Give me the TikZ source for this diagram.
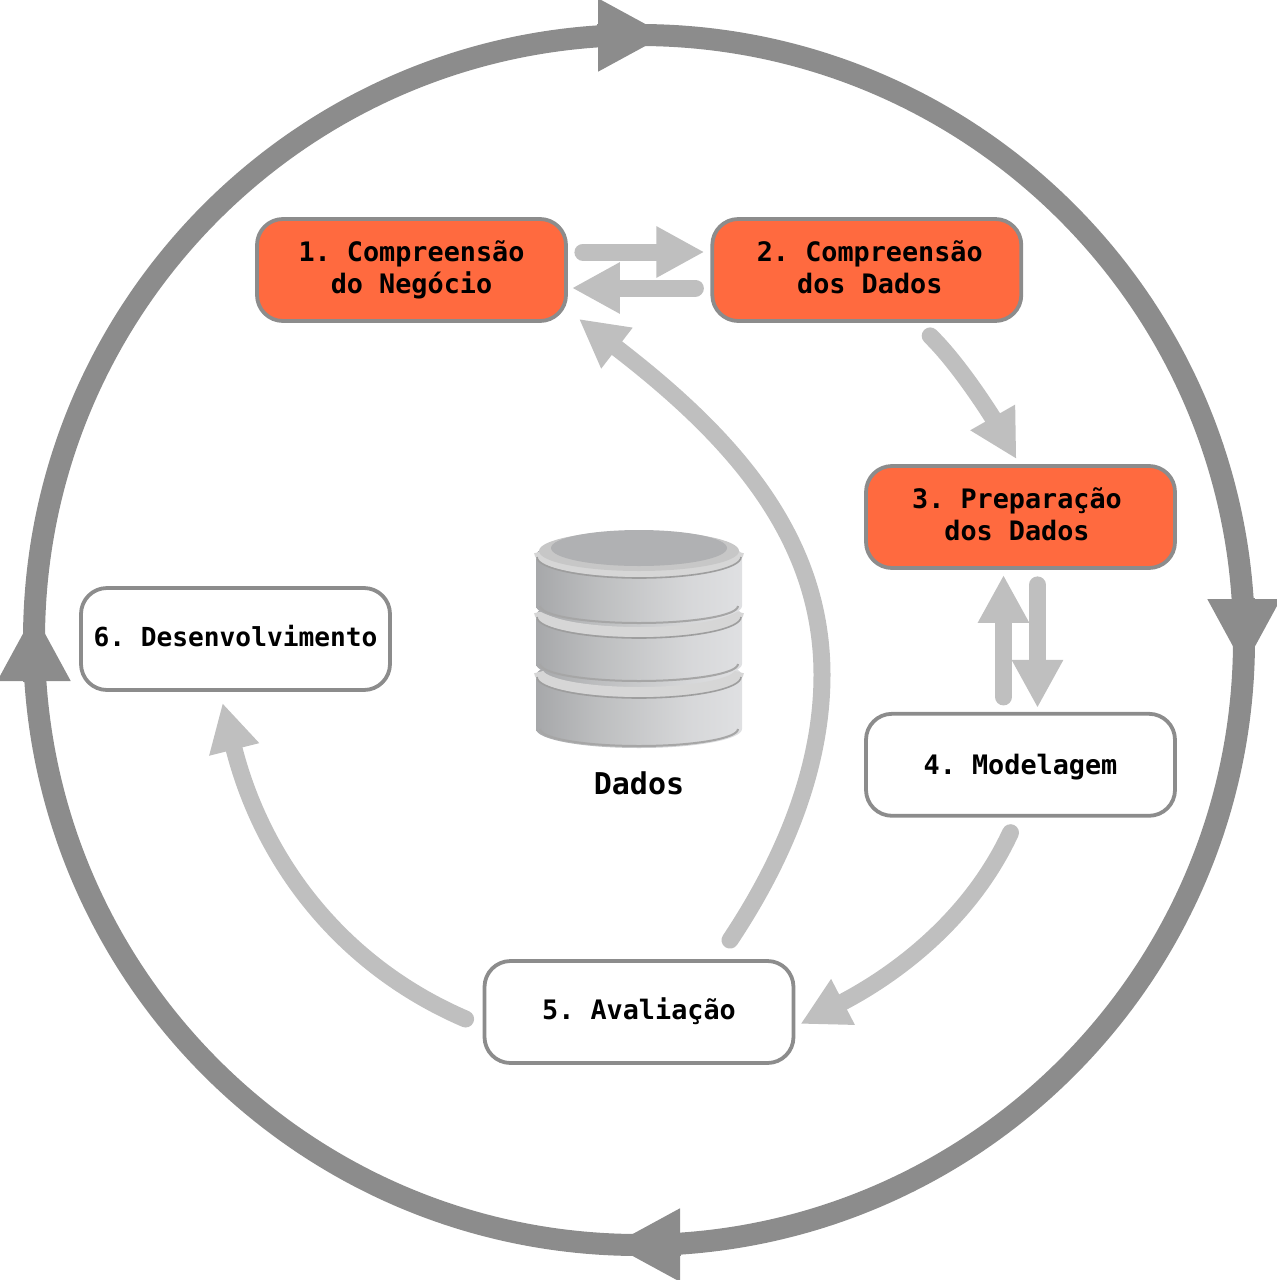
\documentclass[tikz,border=0pt]{standalone}
\usepackage{fontspec}
\setmonofont{DejaVu Sans Mono}
\usetikzlibrary{arrows.meta,positioning,calc}
\definecolor{faseC}{HTML}{FF6A3F}
\definecolor{bordaC}{HTML}{8C8C8C}
\definecolor{ciclo}{HTML}{8C8C8C}
\definecolor{fluxo}{HTML}{BFBFBF}
\definecolor{discoC}{HTML}{B0B1B3}
\pgfdeclarehorizontalshading{metal}{100bp}{
  rgb(0bp)=(0.635,0.64,0.65); rgb(22bp)=(0.635,0.64,0.65); rgb(40bp)=(0.74,0.745,0.75);
  rgb(62bp)=(0.84,0.843,0.85); rgb(75bp)=(0.875,0.878,0.886); rgb(88bp)=(0.855,0.859,0.867); rgb(100bp)=(0.77,0.773,0.78)}
\newcommand{\lin}{\rule[-3.2pt]{0pt}{13.2pt}}
\tikzset{
  stepbox/.style={rectangle, rounded corners=13pt, draw=bordaC, line width=1.9pt, fill=#1,
                  align=center, minimum width=154.5pt, minimum height=51pt, inner sep=0pt,
                  font=\ttfamily\bfseries\fontsize{13.4}{16}\selectfont},
  arrflow/.style={-{Triangle[length=24pt,width=24pt]}, line width=8.5pt, line cap=round, draw=fluxo},
  arrcycle/.style={-{Triangle[length=34.5pt,width=34pt]}, line width=11pt, draw=ciclo},
  tier/.style={shading=metal},
}
\begin{document}
\begin{tikzpicture}[x=0.5pt,y=-0.5pt]
    \useasboundingbox (0,0) rectangle (1277,1280);
    \coordinate (centro) at (639,640);
    \draw[ciclo, line width=11pt] (centro) circle[radius=605];
    \foreach \ang in {0,90,180,270}
      \draw[arrcycle, rotate around={-\ang:(centro)}] (597,35) -- (667,35);

    \node[stepbox=faseC] (n1) at (411.5,270) {\lin 1. Compreensão\\do Negócio\lin};
    \node[stepbox=faseC, right=71.25pt of n1] (n2) {\lin\hspace*{3pt}2. Compreensão\\\hspace*{3pt}dos Dados\lin};
    \node[stepbox=faseC] (n3) at (1020.5,517) {\lin 3. Preparação\hspace*{3.5pt}\\dos Dados\lin\hspace*{3.5pt}};
    \node[stepbox=white, below=71pt of n3] (n4) {\rule[-3.2pt]{0pt}{16.2pt}4. Modelagem};
    \node[stepbox=white] (n5) at (639,1012) {\lin 5. Avaliação};
    \node[stepbox=white, font=\ttfamily\bfseries\fontsize{13.1}{16}\selectfont] (n6) at (235.5,639) {\lin 6. Desenvolvimento};

    \foreach \cy/\by in {676/748,616/683,556/625} {
      \shade[tier] (536,\cy) -- (536,\by-19) arc[start angle=180, end angle=0, x radius=103, y radius=19]
        -- (742,\cy) arc[start angle=0, end angle=-180, x radius=103, y radius=22] -- cycle;
      \draw[draw=black!35, line width=1pt] (540,\by-19) arc[start angle=180, end angle=0, x radius=99, y radius=17];
      \draw[draw=white!84!black, line width=5pt] (539,\cy-4) arc[start angle=180, end angle=0, x radius=100, y radius=20];
      \draw[draw=black!38, line width=0.8pt] (537,\cy+1) arc[start angle=180, end angle=0, x radius=102, y radius=21];
    }
    \fill[white!78!black] (639,551) ellipse[x radius=100, y radius=20];
    \fill[discoC] (639,548) ellipse[x radius=88, y radius=18];
    \node[font=\ttfamily\bfseries\fontsize{15}{18}\selectfont] (dados) at (639,783) {Dados};

    \draw[arrflow] ([shift={(15,-18)}]n1.east) -- ([shift={(-6,-18)}]n2.west);
    \draw[arrflow] ([shift={(-15,18)}]n2.west) -- ([shift={(4,18)}]n1.east);
    \draw[arrflow] ([shift={(-93,13)}]n2.south east) .. controls (960,365) and (993,418) .. ([shift={(-4,-5)}]n3.north);
    \draw[arrflow] ([shift={(-17,-15)}]n4.north) -- ([shift={(-17,5)}]n3.south);
    \draw[arrflow] ([shift={(17,15)}]n3.south) -- ([shift={(17,-4)}]n4.north);
    \draw[arrflow] ([shift={(-10,15)}]n4.south) .. controls (970,920) and (895,975) .. ([shift={(5,12)}]n5.east);
    \draw[arrflow] ([shift={(-17,7)}]n5.west) .. controls (340,965) and (262,860) .. ([shift={(-13,11)}]n6.south);
    \draw[arrflow] ([shift={(91,-19)}]n5.north) .. controls (790,850) and (822,760) .. (822,675)
      .. controls (822,535) and (730,435) .. ([shift={(11,-4)}]n1.south east);
\end{tikzpicture}
\end{document}
